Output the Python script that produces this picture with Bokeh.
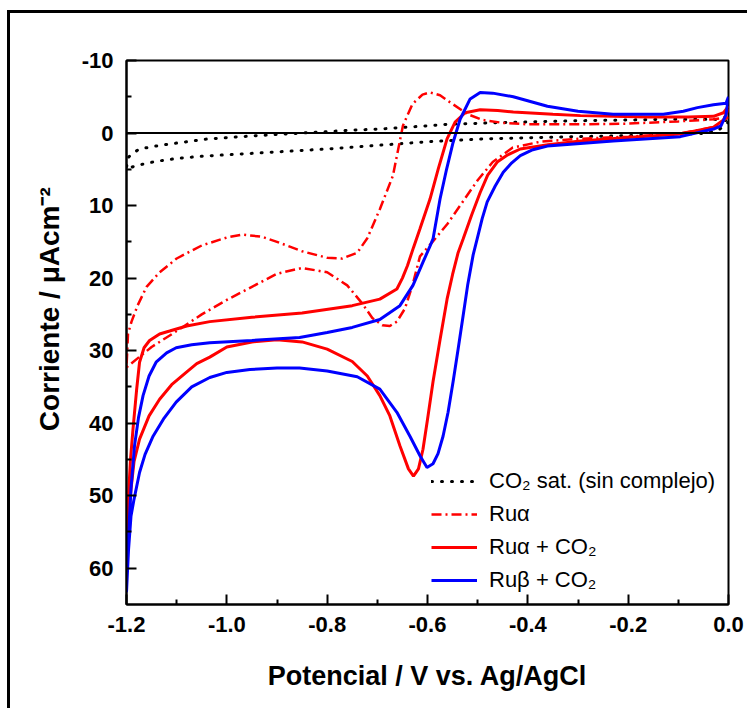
from bokeh.plotting import figure
from bokeh.embed import file_html
from bokeh.resources import INLINE
from bokeh.models import (Range1d, FixedTicker, NumeralTickFormatter, Span,
                          Legend, LegendItem, LinearAxis)

# ---------------- data ----------------
x_ticks = [-1.2, -1.0, -0.8, -0.6, -0.4, -0.2, 0.0]
x_minor = [-1.1, -0.9, -0.7, -0.5, -0.3, -0.1]
y_ticks = [-10, 0, 10, 20, 30, 40, 50, 60]
y_minor = [-5, 5, 15, 25, 35, 45, 55]

# CO2 saturated, no complex (black dotted)
co2_v = [0.0, -0.02, -0.05, -0.1, -0.2, -0.3, -0.4, -0.5, -0.6, -0.7, -0.8, -0.9,
         -1.0, -1.05, -1.1, -1.14, -1.168, -1.19, -1.2,
         -1.2, -1.198, -1.19, -1.174, -1.15, -1.13, -1.04, -0.95, -0.85, -0.75,
         -0.695, -0.6, -0.561, -0.45, -0.295, -0.2, -0.1, -0.03, 0.0]
co2_i = [-1.5, -0.4, 0.05, 0.15, 0.35, 0.5, 0.65, 0.85, 1.2, 1.7, 2.2, 2.6,
         3.0, 3.2, 3.5, 3.9, 4.3, 4.7, 5.0,
         4.8, 3.5, 2.9, 2.2, 1.9, 1.66, 0.83, 0.4, 0.0, -0.4,
         -0.55, -1.0, -1.2, -1.45, -1.7, -1.8, -1.9, -1.9, -1.7]

# Ru-alpha (red dash-dot)
ra_v = [0.0, -0.03, -0.1, -0.2, -0.3, -0.375, -0.43, -0.47, -0.5, -0.53, -0.56,
        -0.59, -0.615, -0.63, -0.645, -0.661, -0.675, -0.69, -0.71, -0.73, -0.76,
        -0.8, -0.85, -0.9, -0.95, -1.0, -1.05, -1.1, -1.15, -1.2,
        -1.197, -1.19, -1.178, -1.16, -1.134, -1.1, -1.05, -1.0, -0.97, -0.93,
        -0.9, -0.85, -0.8, -0.77, -0.74, -0.72, -0.695, -0.669, -0.649, -0.63,
        -0.61, -0.595, -0.575, -0.55, -0.52, -0.49, -0.45, -0.4, -0.3, -0.2,
        -0.1, -0.03, 0.0]
ra_i = [-2.2, -0.8, 0.1, 0.5, 0.8, 1.2, 2.0, 4.0, 6.5, 9.5, 12.5,
        15.0, 17.0, 21.0, 24.2, 26.0, 26.6, 26.5, 25.5, 23.5, 21.0,
        19.2, 18.6, 19.4, 21.2, 23.0, 25.0, 27.3, 29.5, 32.3,
        27.7, 26.0, 23.8, 21.2, 19.2, 17.3, 15.5, 14.4, 14.0, 14.3,
        15.0, 16.3, 17.2, 17.3, 16.5, 14.5, 10.5, 5.9, -1.0, -4.0,
        -5.3, -5.6, -5.2, -4.0, -2.6, -1.8, -1.4, -1.2, -1.2, -1.3,
        -1.6, -1.9, -2.2]

# Ru-alpha + CO2 (red solid)
rac_v = [0.0, -0.01, -0.03, -0.096, -0.2, -0.295, -0.36, -0.415, -0.44, -0.461,
         -0.48, -0.495, -0.512, -0.529, -0.539, -0.55, -0.561, -0.575, -0.589,
         -0.6, -0.609, -0.618, -0.628, -0.638, -0.655, -0.675, -0.695, -0.72,
         -0.75, -0.8, -0.85, -0.9, -0.95, -1.0, -1.034, -1.06, -1.081, -1.11,
         -1.134, -1.155, -1.174, -1.185, -1.191, -1.196, -1.2,
         -1.196, -1.192, -1.187, -1.18, -1.174, -1.165, -1.154, -1.134, -1.114,
         -1.08, -1.034, -0.95, -0.85, -0.75, -0.695, -0.661, -0.65, -0.64,
         -0.628, -0.615, -0.595, -0.578, -0.561, -0.545, -0.525, -0.495, -0.46,
         -0.429, -0.35, -0.295, -0.162, -0.08, -0.03, -0.01, 0.0]
rac_i = [-3.3, -1.8, -0.8, 0.14, 0.6, 1.1, 1.6, 2.2, 3.0, 4.0,
         5.8, 8.2, 11.3, 14.6, 16.5, 19.5, 22.9, 28.5, 34.3,
         39.5, 43.6, 46.3, 47.3, 46.3, 43.1, 39.0, 36.2, 33.5,
         31.5, 29.8, 28.8, 28.5, 28.8, 29.5, 30.9, 31.8, 33.0, 34.7,
         36.7, 39.0, 42.2, 45.3, 49.1, 53.0, 57.0,
         50.0, 45.0, 40.8, 35.5, 31.6, 29.6, 28.6, 27.7, 27.3,
         26.6, 26.0, 25.4, 24.8, 23.8, 22.9, 21.5, 20.0, 18.3,
         15.8, 13.2, 9.1, 4.8, 0.8, -1.5, -2.8, -3.2, -3.1,
         -2.9, -2.6, -2.4, -2.2, -2.2, -2.3, -2.8, -3.7]

# Ru-beta + CO2 (blue solid)
rbc_v = [0.0, -0.005, -0.015, -0.03, -0.096, -0.23, -0.361, -0.39, -0.415, -0.432,
         -0.449, -0.465, -0.481, -0.491, -0.501, -0.509, -0.52, -0.529, -0.539,
         -0.549, -0.559, -0.569, -0.579, -0.589, -0.601, -0.615, -0.635, -0.661,
         -0.695, -0.74, -0.8, -0.855, -0.9, -0.954, -1.0, -1.034, -1.07, -1.101,
         -1.125, -1.147, -1.163, -1.174, -1.185, -1.191, -1.196, -1.2,
         -1.198, -1.191, -1.184, -1.176, -1.167, -1.155, -1.141, -1.12, -1.101,
         -1.07, -1.034, -0.95, -0.855, -0.8, -0.75, -0.695, -0.655, -0.629,
         -0.609, -0.595, -0.589, -0.575, -0.562, -0.549, -0.535, -0.515, -0.495,
         -0.47, -0.429, -0.361, -0.3, -0.23, -0.13, -0.09, -0.062, -0.03, -0.005,
         0.0]
rbc_i = [-5.0, -2.5, -1.0, -0.55, 0.5, 1.1, 1.8, 2.3, 3.1, 4.1,
         5.4, 7.3, 9.5, 11.8, 14.6, 16.8, 21.0, 25.2, 29.8,
         34.3, 38.5, 41.8, 44.2, 45.6, 46.1, 44.5, 41.8, 38.5,
         35.3, 33.6, 32.8, 32.4, 32.4, 32.6, 33.0, 33.7, 35.0, 37.1,
         39.3, 41.8, 44.3, 46.8, 50.5, 52.8, 57.5, 63.3,
         58.0, 49.0, 43.1, 39.2, 36.2, 33.5, 31.6, 30.3, 29.6,
         29.2, 28.9, 28.6, 28.2, 27.5, 26.8, 25.7, 23.8, 21.0,
         17.8, 15.6, 14.6, 9.1, 5.0, 1.3, -1.9, -4.7, -5.6,
         -5.5, -5.0, -3.7, -3.0, -2.6, -2.6, -3.0, -3.5, -3.9, -4.1,
         -5.0]

labels = ["CO\u2082 sat. (sin complejo)", "Ru\u03b1", "Ru\u03b1 + CO\u2082", "Ru\u03b2 + CO\u2082"]
x_title = "Potencial / V vs. Ag/AgCl"
y_title = "Corriente / \u03bcAcm\u207b\u00b2"

FONT = "Liberation Sans"

p = figure(width=740, height=698, x_range=Range1d(-1.2, 0.0), y_range=Range1d(65, -10),
           output_backend="svg", toolbar_location=None,
           min_border_left=116, min_border_right=22, min_border_top=47, min_border_bottom=107,
           x_axis_label=x_title)
p.styles = {"border-left": "3px solid black", "border-top": "3px solid black",
            "margin-top": "10px", "margin-left": "7px"}
p.grid.visible = False
p.outline_line_color = "black"
p.outline_line_width = 2
p.background_fill_color = "white"
p.border_fill_color = "white"

p.xaxis.ticker = FixedTicker(ticks=x_ticks, minor_ticks=x_minor)
p.yaxis.ticker = FixedTicker(ticks=y_ticks, minor_ticks=y_minor)
p.xaxis.formatter = NumeralTickFormatter(format="0.0")
p.yaxis.formatter = NumeralTickFormatter(format="0")
for ax in (p.xaxis[0], p.yaxis[0]):
    ax.axis_line_width = 2
    ax.axis_line_color = "black"
    ax.major_tick_in = 10
    ax.major_tick_out = 0
    ax.minor_tick_in = 5
    ax.minor_tick_out = 0
    ax.major_tick_line_width = 2
    ax.minor_tick_line_width = 2
    ax.major_label_text_font = FONT
    ax.major_label_text_font_style = "bold"
    ax.major_label_text_font_size = "22px"
    ax.major_label_text_color = "black"
    ax.axis_label_text_font = FONT
    ax.axis_label_text_font_style = "bold"
    ax.axis_label_text_font_size = "27px"
    ax.axis_label_text_color = "black"
p.xaxis.major_label_standoff = 12
p.yaxis.major_label_standoff = 13
p.xaxis.axis_label_standoff = 26

# y-axis title on a bare helper axis; leading no-break spaces lift the centred text
title_axis = LinearAxis(ticker=FixedTicker(ticks=[]),
                        axis_line_color=None, major_tick_line_color=None,
                        minor_tick_line_color=None,
                        axis_label="\u00a0" * 6 + y_title,
                        axis_label_standoff=14, axis_label_text_font=FONT,
                        axis_label_text_font_style="bold",
                        axis_label_text_font_size="28px",
                        axis_label_text_color="black")
p.add_layout(title_axis, "left")

p.add_layout(Span(location=0, dimension="width", line_color="black", line_width=2))

r_co2 = p.line(co2_v, co2_i, line_color="black", line_width=3, line_dash="1 9",
               line_cap="round")
r_ra = p.line(ra_v, ra_i, line_color="#ff0000", line_width=2.5, line_dash="10 4 2 4")
r_rac = p.line(rac_v, rac_i, line_color="#ff0000", line_width=3)
r_rbc = p.line(rbc_v, rbc_i, line_color="#0000ff", line_width=3)

legend = Legend(items=[LegendItem(label=labels[0], renderers=[r_co2]),
                       LegendItem(label=labels[1], renderers=[r_ra]),
                       LegendItem(label=labels[2], renderers=[r_rac]),
                       LegendItem(label=labels[3], renderers=[r_rbc])],
                location=(305, 11), border_line_color=None, background_fill_alpha=0,
                padding=0, margin=0, spacing=7, glyph_width=46, glyph_height=26,
                label_height=26, label_standoff=12, label_text_font=FONT,
                label_text_font_size="22px", label_text_color="black")
p.add_layout(legend)

open("out.html", "w").write(file_html(p, INLINE))
